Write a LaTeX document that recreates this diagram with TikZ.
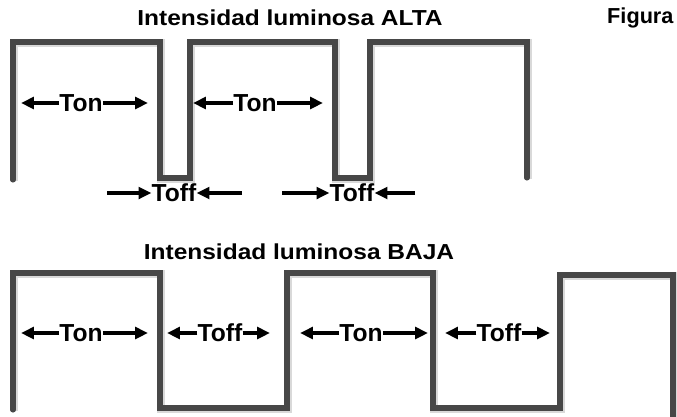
\documentclass[tikz,border=0pt]{standalone}
\usepackage{fontspec}
\setmainfont{Liberation Sans}
\usetikzlibrary{arrows.meta}
\tikzset{
  onda/.style={line width=4.3pt, black!72, line join=miter, line cap=round,
    preaction={draw, gray!30, line width=7pt, transform canvas={shift={(1pt,-1pt)}}}},
  flecha/.style={line width=2.6pt, -{Triangle[length=11pt,width=10pt]}},
  etiqueta/.style={font=\fontsize{21}{24}\selectfont\bfseries, inner sep=0pt},
  titulo/.style={font=\fontsize{18.5}{22}\selectfont\bfseries, inner sep=0pt}
}
\begin{document}
\begin{tikzpicture}[x=0.03cm, y=-0.03cm]
            \useasboundingbox (0,0) rectangle (677,416);
            % titulos
            \node[titulo] (alta) at (290,18) {\scalebox{1.13}[1]{Intensidad luminosa ALTA}};
            \node[titulo] (baja) at (299,252) {\scalebox{1.13}[1]{Intensidad luminosa BAJA}};
            \node[titulo, anchor=west] (fig) at (607,18) {Figura};
            % ondas
            \draw[onda] (13,180) -- (13,42) -- (160,42) -- (160,178) -- (190,178) -- (190,42) -- (335,42)
                -- (335,178) -- (370,178) -- (370,42) -- (527,42) -- (527,178);
            \draw[onda] (13,410) -- (13,273) -- (160,273) -- (160,408) -- (287,408) -- (287,273) -- (433,273)
                -- (433,408) -- (560,408) -- (560,275) -- (673,275) -- (673,430);
            % Ton / Toff hacia fuera
            \foreach \n/\x/\y/\a/\b/\t in {ton1/81/103/21/148/Ton, ton2/255/103/193/323/Ton,
                ton3/81/333/21/148/Ton, ton4/361/333/300/428/Ton,
                toff3/220/333/167/270/Toff, toff4/499/333/445/550/Toff}{
              \node[etiqueta] (\n) at (\x,\y) {\t};
              \coordinate (\n l) at (\a,\y);
              \coordinate (\n r) at (\b,\y);
              \draw[flecha] (\n.west) -- (\n l);
              \draw[flecha] (\n.east) -- (\n r);
            }
            % Toff hacia dentro
            \foreach \n/\x/\a/\b in {toff1/174/107/242, toff2/352/282/415}{
              \node[etiqueta] (\n) at (\x,193) {Toff};
              \coordinate (\n l) at (\a,193);
              \coordinate (\n r) at (\b,193);
              \draw[flecha] (\n l) -- (\n.west);
              \draw[flecha] (\n r) -- (\n.east);
            }
        \end{tikzpicture}
\end{document}
